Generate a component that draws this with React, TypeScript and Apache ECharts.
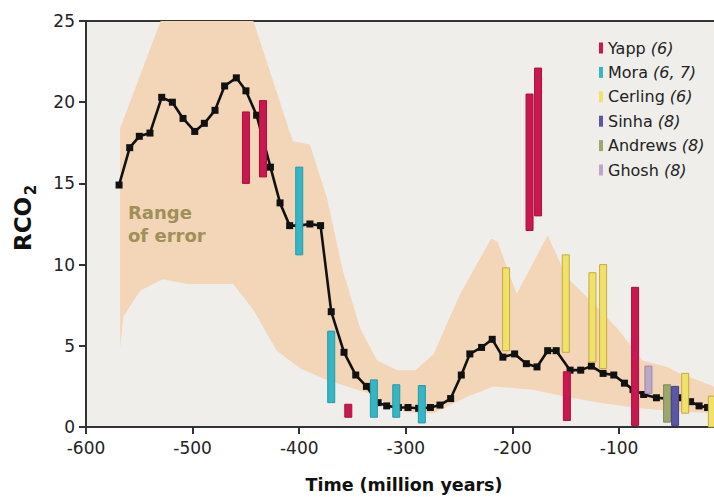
import React, { useEffect, useRef } from "react";
import * as echarts from "echarts";

// GEOCARB-style RCO2 curve (time in Ma, negative = past)
const timeMa = [
  -569, -559, -550, -540, -529, -519, -509, -498, -489, -479, -470, -459, -450, -440,
  -427, -418, -409, -400, -390, -380, -370, -358, -347, -337, -326, -318, -307, -298,
  -288, -277, -268, -258, -248, -240, -229, -219, -209, -198, -187, -177, -167, -159,
  -146, -136, -126, -115, -105, -95, -87, -77, -65, -55, -44, -33, -25, -17,
];
const rco2 = [
  14.9, 17.2, 17.9, 18.1, 20.3, 20.0, 19.0, 18.2, 18.7, 19.5, 21.0, 21.5, 20.7, 19.2,
  16.0, 13.8, 12.4, 12.4, 12.5, 12.4, 7.1, 4.6, 3.2, 2.5, 1.5, 1.3, 1.2, 1.2,
  1.15, 1.2, 1.35, 1.75, 3.2, 4.5, 4.9, 5.4, 4.3, 4.5, 3.9, 3.7, 4.7, 4.7,
  3.5, 3.5, 3.75, 3.3, 3.2, 2.7, 2.3, 2.0, 1.8, 1.75, 1.8, 1.56, 1.3, 1.2,
];

// Range of error envelope
const bandUpperTime = [
  -568, -530, -443, -406, -390, -374, -359, -343, -327, -308, -291, -274, -249, -220,
  -214, -196, -167, -149, -127, -102, -78, -55, -43, -11,
];
const bandUpperValue = [
  18.4, 25, 25, 17.6, 17.4, 14.1, 9.6, 6.1, 4.1, 3.5, 3.5, 4.5, 8.2, 11.6,
  11.4, 8.2, 11.8, 9.2, 7.8, 6.1, 4.1, 3.7, 3.3, 2.5,
];
const bandLowerTime = [
  -568, -565, -549, -528, -505, -462, -443, -421, -399, -374, -336, -300, -274, -243,
  -218, -181, -149, -118, -87, -55, -11,
];
const bandLowerValue = [
  4.85, 6.8, 8.4, 9.1, 8.8, 8.8, 7.2, 4.7, 3.6, 2.9, 2.1, 0.9, 0.85, 1.85,
  2.5, 2.3, 1.85, 1.5, 1.2, 1.0, 0.85,
];

// Proxy estimates: [time, low, high]
const yapp = [
  [-450, 15.0, 19.4], [-434, 15.4, 20.1], [-354, 0.6, 1.4], [-184, 12.1, 20.5],
  [-176, 13.0, 22.1], [-149, 0.4, 3.4], [-85, 0.1, 8.6],
];
const mora = [
  [-400, 10.6, 16.0], [-370, 1.5, 5.9], [-330, 0.6, 2.9], [-309, 0.6, 2.6], [-285, 0.25, 2.55],
];
const cerling = [
  [-206, 4.7, 9.8], [-150, 4.6, 10.6], [-125, 4.0, 9.5], [-115, 3.6, 10.0],
  [-38, 0.85, 3.3], [-13, 0.0, 1.9],
];
const andrews = [[-55, 0.3, 2.6]];
const sinha = [[-47.5, 0.1, 2.5]];
const ghosh = [[-72.5, 2.07, 3.75]];

const proxyNames = ["Yapp", "Mora", "Cerling", "Sinha", "Andrews", "Ghosh"];
const proxyRefs = ["6", "6, 7", "6", "8", "8", "8"];

const FONT = '"DejaVu Sans", "Liberation Sans", Arial, sans-serif';

function barSeries(name: string, data: number[][], fill: string, stroke: string, z: number) {
  return {
    type: "custom",
    name,
    data,
    z,
    encode: { x: 0, y: [1, 2] },
    itemStyle: { color: fill },
    renderItem: (params: any, api: any) => {
      const top = api.coord([api.value(0), api.value(2)]);
      const bot = api.coord([api.value(0), api.value(1)]);
      return {
        type: "rect",
        shape: { x: top[0] - 3.5, y: top[1], width: 7, height: bot[1] - top[1] },
        style: { fill, stroke, lineWidth: 1 },
      };
    },
  };
}

export default function App() {
  const ref = useRef<HTMLDivElement>(null);
  useEffect(() => {
    if (!ref.current) return;
    const chart = echarts.init(ref.current, null, { renderer: "svg" });
    const axisLineStyle = { color: "#333", width: 2 };
    chart.setOption({
      animation: false,
      backgroundColor: "#ffffff",
      grid: {
        left: 86,
        right: 0,
        top: 21,
        bottom: 70,
        show: true,
        backgroundColor: "#efeeeb",
        borderWidth: 0,
        containLabel: false,
        outerBoundsMode: "none",
      },
      legend: {
        data: proxyNames,
        orient: "vertical",
        left: 594,
        top: 35,
        icon: "rect",
        itemWidth: 4,
        itemHeight: 11,
        itemGap: 8.4,
        selectedMode: false,
        formatter: (name: string) => {
          const i = proxyNames.indexOf(name);
          return `{n|${name} }{i|(${proxyRefs[i]})}`;
        },
        textStyle: {
          fontFamily: FONT,
          fontSize: 16,
          color: "#222",
          lineHeight: 16,
          rich: {
            n: { fontFamily: FONT, fontSize: 16, color: "#222", lineHeight: 16 },
            i: { fontFamily: FONT, fontSize: 16, color: "#222", fontStyle: "italic", lineHeight: 16 },
          },
        },
      },
      xAxis: [
        {
          type: "value",
          min: -600,
          max: -11,
          interval: 100,
          axisLine: { show: true, onZero: false, lineStyle: axisLineStyle },
          axisTick: { show: true, length: 7, lineStyle: axisLineStyle },
          axisLabel: { fontFamily: FONT, fontSize: 17, color: "#222", margin: 12, showMaxLabel: false },
          splitLine: { show: false },
        },
        {
          type: "value",
          position: "top",
          min: -600,
          max: -11,
          interval: 100,
          axisLine: { show: true, onZero: false, lineStyle: axisLineStyle },
          axisTick: { show: false },
          axisLabel: { show: false },
          splitLine: { show: false },
        },
      ],
      yAxis: {
        type: "value",
        min: 0,
        max: 25,
        interval: 5,
        axisLine: { show: true, onZero: false, lineStyle: axisLineStyle },
        axisTick: { show: true, length: 7, lineStyle: axisLineStyle },
        axisLabel: { fontFamily: FONT, fontSize: 17, color: "#222", margin: 11 },
        splitLine: { show: false },
      },
      graphic: [
        {
          type: "text",
          x: 23,
          y: 224,
          rotation: Math.PI / 2,
          style: {
            text: "RCO",
            font: `bold 23px ${FONT}`,
            fill: "#111",
            textAlign: "center",
            textVerticalAlign: "middle",
          },
        },
        {
          type: "text",
          x: 31,
          y: 190,
          rotation: Math.PI / 2,
          style: {
            text: "2",
            font: `bold 15px ${FONT}`,
            fill: "#111",
            textAlign: "center",
            textVerticalAlign: "middle",
          },
        },
        {
          type: "text",
          x: 404,
          y: 485,
          style: {
            text: "Time (million years)",
            font: `bold 17.5px ${FONT}`,
            fill: "#111",
            textAlign: "center",
            textVerticalAlign: "middle",
          },
        },
        {
          type: "text",
          x: 128,
          y: 212,
          z: 10,
          style: {
            text: "Range",
            font: `bold 18px ${FONT}`,
            fill: "#a09058",
            textAlign: "left",
            textVerticalAlign: "middle",
          },
        },
        {
          type: "text",
          x: 128,
          y: 235,
          z: 10,
          style: {
            text: "of error",
            font: `bold 18px ${FONT}`,
            fill: "#a09058",
            textAlign: "left",
            textVerticalAlign: "middle",
          },
        },
      ],
      series: [
        {
          type: "custom",
          name: "Range of error",
          silent: true,
          z: 1,
          data: bandUpperTime.map((t, i) => [t, bandUpperValue[i]]),
          renderItem: (params: any, api: any) => {
            if (params.dataIndex !== 0) return null;
            const pts: number[][] = [];
            bandUpperTime.forEach((t, i) => pts.push(api.coord([t, bandUpperValue[i]])));
            for (let i = bandLowerTime.length - 1; i >= 0; i--) {
              pts.push(api.coord([bandLowerTime[i], bandLowerValue[i]]));
            }
            return { type: "polygon", shape: { points: pts }, style: { fill: "#f3d5b8" } };
          },
        },
        {
          type: "line",
          name: "RCO2",
          z: 3,
          data: timeMa.map((t, i) => [t, rco2[i]]),
          symbol: "rect",
          symbolSize: 7,
          showSymbol: true,
          lineStyle: { color: "#111", width: 2.6 },
          itemStyle: { color: "#111" },
        },
        barSeries("Yapp", yapp, "#c8184f", "#a8103f", 5),
        barSeries("Mora", mora, "#35b6c4", "#2898a6", 5),
        barSeries("Cerling", cerling, "#efe26a", "#c8a93c", 5),
        barSeries("Andrews", andrews, "#9ca66e", "#7f8a55", 5),
        barSeries("Sinha", sinha, "#5b56a6", "#45408a", 6),
        barSeries("Ghosh", ghosh, "#bba7c8", "#9a88a8", 5),
      ],
    });
    return () => chart.dispose();
  }, []);
  return (
    <div
      ref={ref}
      style={{ position: "absolute", left: 0, top: 0, width: 714, height: 497 }}
    />
  );
}
